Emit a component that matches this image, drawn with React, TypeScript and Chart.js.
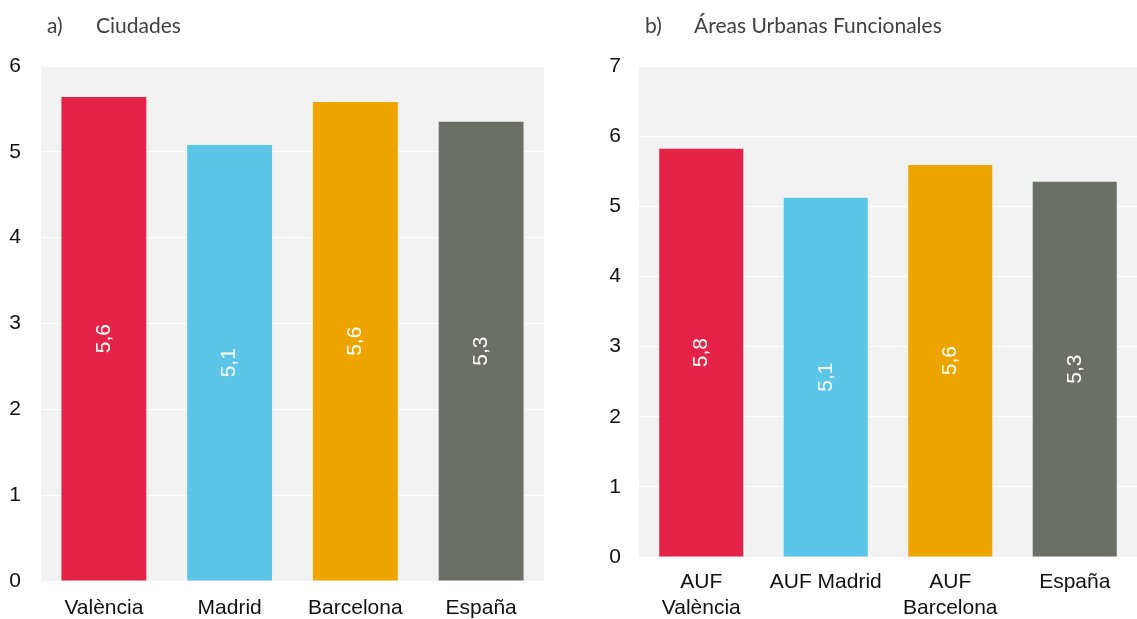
import React, { useEffect, useRef } from "react";
import { Chart, registerables } from "chart.js";

Chart.register(...registerables);

const citiesLabels = ["València", "Madrid", "Barcelona", "España"];
const citiesValues = [5.64, 5.08, 5.58, 5.35];
const citiesTicks = [0, 1, 2, 3, 4, 5, 6];

const aufLabels = [["AUF", "València"], "AUF Madrid", ["AUF", "Barcelona"], "España"];
const aufValues = [5.82, 5.12, 5.59, 5.35];
const aufTicks = [0, 1, 2, 3, 4, 5, 6, 7];

const barColors = ["#E52346", "#5BC6E8", "#EFA500", "#6C6F66"];

const bgPlugin = {
  id: "plotBg",
  beforeDraw(chart: any) {
    const { ctx, chartArea } = chart;
    ctx.save();
    ctx.fillStyle = "#f2f2f2";
    ctx.fillRect(chartArea.left, chartArea.top, chartArea.right - chartArea.left, chartArea.bottom - chartArea.top);
    ctx.restore();
  },
};

const valueLabelPlugin = {
  id: "valueLabels",
  afterDatasetsDraw(chart: any) {
    const { ctx } = chart;
    const meta = chart.getDatasetMeta(0);
    const data = chart.data.datasets[0].data as number[];
    ctx.save();
    ctx.fillStyle = "#ffffff";
    ctx.font = '21px "Liberation Sans", Arial, sans-serif';
    ctx.textAlign = "center";
    ctx.textBaseline = "middle";
    meta.data.forEach((bar: any, i: number) => {
      const cx = bar.x;
      const cy = (bar.y + bar.base) / 2;
      ctx.save();
      ctx.translate(cx, cy);
      ctx.rotate(-Math.PI / 2);
      ctx.fillText(data[i].toFixed(1).replace(".", ","), 0, 0);
      ctx.restore();
    });
    ctx.restore();
  },
};

function CanvasChart(props: any) {
  const ref = useRef<HTMLCanvasElement | null>(null);
  useEffect(() => {
    if (!ref.current) return;
    const maxTick = props.ticks[props.ticks.length - 1];
    const tickFont = { family: '"Liberation Sans", Arial, sans-serif', size: 21 };
    const chart = new Chart(ref.current, {
      type: "bar",
      data: {
        labels: props.labels,
        datasets: [
          {
            data: props.values,
            backgroundColor: barColors,
            barPercentage: 0.675,
            categoryPercentage: 1,
          },
        ],
      },
      options: {
        animation: false,
        responsive: false,
        maintainAspectRatio: false,
        layout: { padding: { top: 66, right: props.padRight, left: 0, bottom: 0 } },
        plugins: { legend: { display: false }, tooltip: { enabled: false } },
        scales: {
          x: {
            grid: { display: false, drawTicks: false },
            border: { display: false },
            ticks: { color: "#111111", font: tickFont, padding: props.xPad, maxRotation: 0, autoSkip: false },
            afterFit(scale: any) {
              scale.height = props.xHeight;
            },
          },
          y: {
            min: 0,
            max: maxTick,
            grid: { color: "#ffffff", lineWidth: 1, drawTicks: false },
            border: { display: false },
            ticks: { color: "#111111", font: tickFont, padding: props.yPad, stepSize: 1 },
            afterFit(scale: any) {
              scale.width = props.yWidth;
            },
          },
        },
      },
      plugins: [bgPlugin, valueLabelPlugin],
    });
    return () => chart.destroy();
  }, []);
  return (
    <canvas
      ref={ref}
      width={props.width}
      height={619}
      style={{ position: "absolute", left: props.left, top: 0, width: props.width, height: 619 }}
    />
  );
}

function Title(props: { x: number; letter: string; title: string }) {
  const base: React.CSSProperties = {
    position: "absolute",
    top: 12,
    fontFamily: "Lato, sans-serif",
    fontSize: 21,
    color: "#404040",
    whiteSpace: "nowrap",
  };
  return (
    <>
      <div style={{ ...base, left: props.x }}>{props.letter}</div>
      <div style={{ ...base, left: props.x + 49 }}>{props.title}</div>
    </>
  );
}

export default function App() {
  return (
    <div style={{ position: "absolute", left: 0, top: 0, width: 1137, height: 619, background: "#ffffff", overflow: "hidden" }}>
      <CanvasChart
        left={0}
        width={560}
        labels={citiesLabels}
        values={citiesValues}
        ticks={citiesTicks}
        yWidth={41}
        yPad={20}
        xHeight={38}
        xPad={15}
        padRight={16}
      />
      <CanvasChart
        left={580}
        width={557}
        labels={aufLabels}
        values={aufValues}
        ticks={aufTicks}
        yWidth={59}
        yPad={18}
        xHeight={62}
        xPad={13}
        padRight={0}
      />
      <Title x={47} letter="a)" title="Ciudades" />
      <Title x={645} letter="b)" title="Áreas Urbanas Funcionales" />
    </div>
  );
}
